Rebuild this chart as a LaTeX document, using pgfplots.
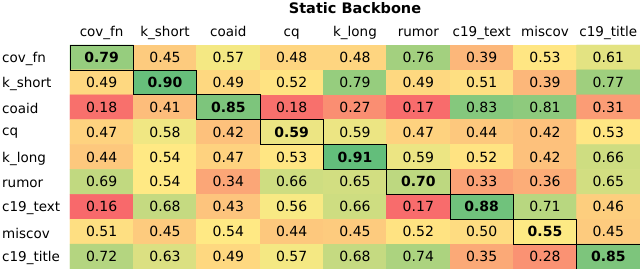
\documentclass[border=0pt]{standalone}
\usepackage{fontspec}
\setmainfont{DejaVu Sans}
\usepackage{pgfplots}
\usepackage{pgfplotstable}
\pgfplotsset{compat=1.18}
\pgfplotstableread{
x y v
0 0 0.79
1 0 0.45
2 0 0.57
3 0 0.48
4 0 0.48
5 0 0.76
6 0 0.39
7 0 0.53
8 0 0.61
0 1 0.49
1 1 0.90
2 1 0.49
3 1 0.52
4 1 0.79
5 1 0.49
6 1 0.51
7 1 0.39
8 1 0.77
0 2 0.18
1 2 0.41
2 2 0.85
3 2 0.18
4 2 0.27
5 2 0.17
6 2 0.83
7 2 0.81
8 2 0.31
0 3 0.47
1 3 0.58
2 3 0.42
3 3 0.59
4 3 0.59
5 3 0.47
6 3 0.44
7 3 0.42
8 3 0.53
0 4 0.44
1 4 0.54
2 4 0.47
3 4 0.53
4 4 0.91
5 4 0.59
6 4 0.52
7 4 0.42
8 4 0.66
0 5 0.69
1 5 0.54
2 5 0.34
3 5 0.66
4 5 0.65
5 5 0.70
6 5 0.33
7 5 0.36
8 5 0.65
0 6 0.16
1 6 0.68
2 6 0.43
3 6 0.56
4 6 0.66
5 6 0.17
6 6 0.88
7 6 0.71
8 6 0.46
0 7 0.51
1 7 0.45
2 7 0.54
3 7 0.44
4 7 0.45
5 7 0.52
6 7 0.50
7 7 0.55
8 7 0.45
0 8 0.72
1 8 0.63
2 8 0.49
3 8 0.57
4 8 0.68
5 8 0.74
6 8 0.35
7 8 0.28
8 8 0.85
}\datatable
\begin{document}
\begin{tikzpicture}
\begin{axis}[
  scale only axis,
  width=570pt, height=224pt,
  xmin=-0.5, xmax=8.5, ymin=-0.5, ymax=8.5,
  y dir=reverse,
  axis line style={draw=none},
  major tick length=0pt,
  xtick={0,...,8}, ytick={0,...,8},
  xticklabel pos=upper,
  xticklabels={cov\_fn,k\_short,coaid,cq,k\_long,rumor,c19\_text,miscov,c19\_title},
  yticklabels={cov\_fn,k\_short,coaid,cq,k\_long,rumor,c19\_text,miscov,c19\_title},
  ticklabel style={font=\fontsize{13.5}{16}\selectfont},
  yticklabel style={anchor=west, inner sep=0pt, xshift=-68pt, yshift=-1.5pt},
  xticklabel style={anchor=base, inner sep=0pt, yshift=8pt},
  colormap={excel}{rgb255(0cm)=(248,105,107); rgb255(5.13cm)=(255,235,132); rgb255(10cm)=(99,190,123)},
  point meta min=0.16, point meta max=0.91,
  /pgf/number format/assume math mode=true,
  clip=false,
]
\addplot[matrix plot*, mesh/cols=9, point meta=explicit, draw=none] table[x=x, y=y, meta=v] {\datatable};
\addplot[only marks, mark=none, point meta=explicit,
  x filter/.expression={\thisrow{x}==\thisrow{y} ? nan : x},
  nodes near coords={\pgfmathprintnumber[fixed,fixed zerofill,precision=2]{\pgfplotspointmeta}},
  nodes near coords align=center,
  every node near coord/.append style={font=\fontsize{14}{16}\selectfont, text=black}]
  table[x=x, y=y, meta=v] {\datatable};
\addplot[only marks, mark=none, point meta=explicit,
  x filter/.expression={\thisrow{x}==\thisrow{y} ? x : nan},
  nodes near coords={\pgfmathprintnumber[fixed,fixed zerofill,precision=2]{\pgfplotspointmeta}},
  nodes near coords align=center,
  every node near coord/.append style={font=\fontsize{14}{16}\selectfont\bfseries, text=black}]
  table[x=x, y=y, meta=v] {\datatable};
\draw[black, line width=0.6pt] (axis cs:-0.5,-0.5) rectangle (axis cs:0.5,0.5);
\draw[black, line width=0.6pt] (axis cs:0.5,0.5) rectangle (axis cs:1.5,1.5);
\draw[black, line width=0.6pt] (axis cs:1.5,1.5) rectangle (axis cs:2.5,2.5);
\draw[black, line width=0.6pt] (axis cs:2.5,2.5) rectangle (axis cs:3.5,3.5);
\draw[black, line width=0.6pt] (axis cs:3.5,3.5) rectangle (axis cs:4.5,4.5);
\draw[black, line width=0.6pt] (axis cs:4.5,4.5) rectangle (axis cs:5.5,5.5);
\draw[black, line width=0.6pt] (axis cs:5.5,5.5) rectangle (axis cs:6.5,6.5);
\draw[black, line width=0.6pt] (axis cs:6.5,6.5) rectangle (axis cs:7.5,7.5);
\draw[black, line width=0.6pt] (axis cs:7.5,7.5) rectangle (axis cs:8.5,8.5);
\node[font=\fontsize{14.5}{17}\selectfont\bfseries, anchor=center] at ([yshift=37pt]current axis.north) {Static Backbone};
\end{axis}
\pgfresetboundingbox
\path ([xshift=-70pt]current axis.south west) rectangle ([yshift=45pt]current axis.north east);
\end{tikzpicture}
\end{document}
